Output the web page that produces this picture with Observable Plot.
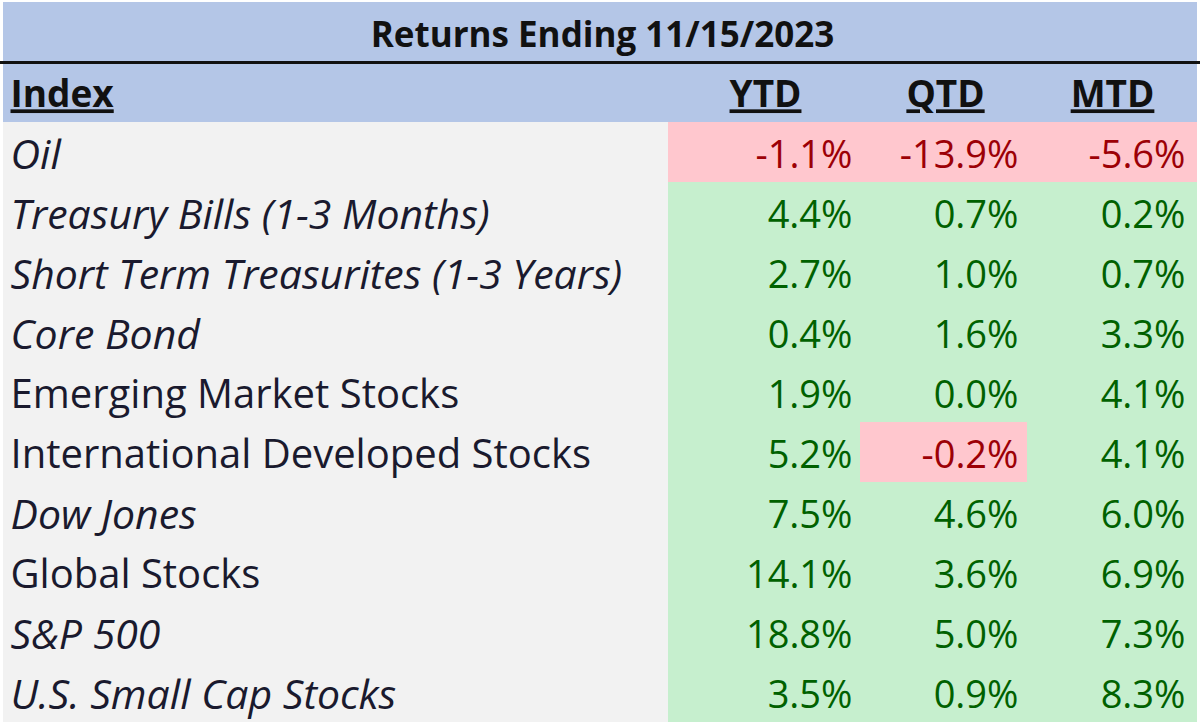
<!DOCTYPE html>
<html><head>
<meta charset="utf-8">
<script src="https://cdn.jsdelivr.net/npm/d3@7"></script>
<script src="https://cdn.jsdelivr.net/npm/@observablehq/plot@0.6"></script>
<style>
body{margin:0;background:#fff;}
.hdr text{text-decoration:underline;text-decoration-thickness:3px;text-underline-offset:5px;}
</style>
</head><body><div id="chart"></div>
<script>
// ---- data ----
const title = "Returns Ending 11/15/2023";
const indexLabel = "Index";
const columns = ["YTD", "QTD", "MTD"];
const indices = [
  "Oil",
  "Treasury Bills (1-3 Months)",
  "Short Term Treasurites (1-3 Years)",
  "Core Bond",
  "Emerging Market Stocks",
  "International Developed Stocks",
  "Dow Jones",
  "Global Stocks",
  "S&P 500",
  "U.S. Small Cap Stocks"
];
const italicRows = [true, true, true, true, false, false, true, false, true, true];
const ytd = [-1.1, 4.4, 2.7, 0.4, 1.9, 5.2, 7.5, 14.1, 18.8, 3.5];
const qtd = [-13.9, 0.7, 1.0, 1.6, 0.0, -0.2, 4.6, 3.6, 5.0, 0.9];
const mtd = [-5.6, 0.2, 0.7, 3.3, 4.1, 4.1, 6.0, 6.9, 7.3, 8.3];

// ---- layout ----
const W = 1200, H = 726;
const left = 3, right = 1197;
const colEdges = [668, 860, 1027, 1197];
const numRight = [852, 1018, 1185];
const headCenter = [765, 945, 1112];
const textLeft = 10;
const nRows = indices.length + 2;

const series = [ytd, qtd, mtd];
const cells = [];
indices.forEach((name, i) => {
  series.forEach((vals, j) => {
    cells.push({row: i + 2, x1: colEdges[j], x2: colEdges[j + 1], xr: numRight[j], v: vals[i]});
  });
});
const rows = indices.map((name, i) => ({name, row: i + 2, italic: italicRows[i]}));
const heads = columns.map((c, j) => ({c, x: headCenter[j]}));

const fmt = v => v.toFixed(1) + "%";
const font = "'Open Sans', Lato, sans-serif";
const fs = 38;
const ty = 0.55; // vertical text position inside a row

const plot = Plot.plot({
  width: W, height: H,
  margin: 0,
  x: {type: "linear", domain: [0, W], range: [0, W], axis: null},
  y: {type: "linear", domain: [0, nRows], range: [2, 722], axis: null},
  style: {fontFamily: font, background: "#fff"},
  marks: [
    Plot.rect([0], {x1: left, x2: right, y1: 0, y2: 2, fill: "#b4c6e7"}),
    Plot.rect([0], {x1: left, x2: right, y1: 2, y2: nRows, fill: "#f2f2f2"}),
    Plot.rect(cells, {x1: "x1", x2: "x2", y1: "row", y2: d => d.row + 1,
      fill: d => d.v < 0 ? "#ffc7ce" : "#c6efce"}),
    Plot.ruleY([1], {x1: 0, x2: W, stroke: "#111", strokeWidth: 3}),
    Plot.text([title], {x: W / 2 + 2, y: 0.55, text: d => d, fontSize: 35, fontWeight: "bold", fill: "#111"}),
    Plot.text([indexLabel], {x: textLeft, y: 1 + ty, text: d => d, textAnchor: "start", fontSize: 37,
      fontWeight: "bold", fill: "#111", className: "hdr"}),
    Plot.text(heads, {x: "x", y: 1 + ty, text: "c", fontSize: 37, fontWeight: "bold", fill: "#111", className: "hdr"}),
    Plot.text(rows.filter(d => d.italic), {x: textLeft, y: d => d.row + ty, text: "name", textAnchor: "start",
      fontSize: 41, fontStyle: "italic", fill: "#1a1a2e"}),
    Plot.text(rows.filter(d => !d.italic), {x: textLeft, y: d => d.row + ty, text: "name", textAnchor: "start",
      fontSize: 40, fill: "#1a1a2e"}),
    Plot.text(cells, {x: "xr", y: d => d.row + ty, text: d => fmt(d.v), textAnchor: "end", fontSize: fs,
      fill: d => d.v < 0 ? "#9c0006" : "#006100"})
  ]
});
document.getElementById("chart").appendChild(plot);
</script>
</body></html>
